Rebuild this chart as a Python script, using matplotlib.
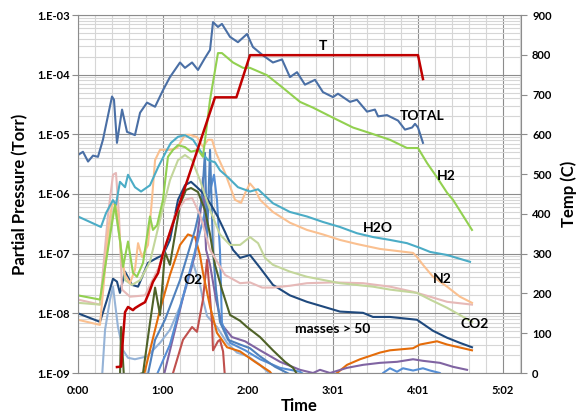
import matplotlib
matplotlib.use("Agg")
import matplotlib.pyplot as plt
from matplotlib.ticker import FixedLocator, MultipleLocator, NullFormatter

plt.rcParams['font.family'] = ['Lato', 'DejaVu Sans']
plt.rcParams['font.weight'] = 'bold'

# time in minutes, pressures in Torr, temperature in C
total_t = [0, 3.5, 7.1, 10.6, 14.1, 17.6, 24, 25.4, 27.5, 31.1, 34.6, 40.2, 43.8, 48.7, 54.4, 60, 64.9,
           72, 75.5, 80.5, 84.7, 89.6, 93.2, 95.3, 98.8, 101.6, 107.3, 112.9, 119.3, 123.5, 130.6, 137.6,
           144, 149.6, 154.6, 160.2, 167.3, 172.9, 180, 183.5, 192, 196.9, 204, 209.6, 211.8, 218.1,
           225.9, 230.8, 235.8, 237.9, 240, 243.5]
total_p = [4.5e-6, 5.1e-6, 3.5e-6, 4.4e-6, 4.2e-6, 8.1e-6, 4.3e-5, 3.8e-5, 7.2e-6, 2.6e-5, 1.1e-5, 9.7e-6,
           2.3e-5, 3.4e-5, 2.9e-5, 5.5e-5, 9.1e-5, 1.6e-4, 1.3e-4, 1.6e-4, 1.2e-4, 1.9e-4, 2.6e-4, 7.6e-4,
           6.3e-4, 7.1e-4, 4.3e-4, 3.5e-4, 4.8e-4, 2.9e-4, 2.1e-4, 1.6e-4, 1.8e-4, 9.1e-5, 1.1e-4, 6.8e-5,
           8.2e-5, 5.1e-5, 4.2e-5, 4.8e-5, 3.5e-5, 3.8e-5, 2.4e-5, 2.6e-5, 2.0e-5, 2.1e-5, 1.7e-5, 1.2e-5,
           1.3e-5, 1.5e-5, 1.3e-5, 7.2e-6]

h2_t = [0, 15.5, 26.1, 29.6, 31.8, 35.3, 38.8, 41.6, 45.9, 50.8, 52.9, 55.8, 60, 63.5, 67.1, 70.6, 75.5,
        79.8, 84.7, 88.2, 93.2, 98.8, 101.6, 109.4, 116.5, 121.4, 133.4, 144.7, 156.7, 165.9, 180, 194.1,
        206.1, 220.2, 232.2, 240, 246.4, 253.4, 260.5, 264.7, 278.1]
h2_p = [2.0e-8, 1.7e-8, 6.6e-7, 1.7e-7, 6.0e-8, 1.6e-7, 4.8e-8, 4.1e-8, 7e-8, 4.2e-7, 2.5e-7, 3.0e-7, 8e-7,
        4.2e-6, 5.5e-6, 6.6e-6, 6.1e-6, 5.1e-6, 5.5e-6, 4.2e-6, 3.8e-5, 2.3e-4, 2.3e-4, 1.6e-4, 1.3e-4,
        1.3e-4, 9.8e-5, 6.0e-5, 3.5e-5, 2.8e-5, 1.9e-5, 1.3e-5, 1.05e-5, 8.1e-6, 5.9e-6, 5.9e-6, 3.3e-6,
        1.9e-6, 1.05e-6, 8e-7, 2.5e-7]

h2o_t = [0, 16.2, 19.8, 24.7, 26.8, 29.6, 33.2, 35.3, 40.2, 44.5, 50.8, 56.5, 62.1, 65.6, 70.6, 75.5, 81.2,
         86.8, 91.8, 96.7, 100.2, 105.9, 112.9, 121.4, 127.1, 137.6, 149.6, 161.6, 172.9, 184.9, 196.9,
         208.2, 220.2, 232.2, 241.4, 248.5, 260.5, 276.7]
h2o_p = [4.2e-7, 2.8e-7, 4.8e-7, 7.9e-7, 6.6e-7, 1.6e-6, 1.3e-6, 2.1e-6, 1.3e-6, 1.1e-6, 1.4e-6, 2.8e-6,
         5.1e-6, 7.2e-6, 9.1e-6, 9.7e-6, 8.1e-6, 5.1e-6, 3.7e-6, 3.4e-6, 2.5e-6, 1.9e-6, 1.3e-6, 1.1e-6,
         1.2e-6, 7.0e-7, 5.0e-7, 4.2e-7, 3.4e-7, 2.8e-7, 2.2e-7, 1.9e-7, 1.7e-7, 1.5e-7, 1.25e-7, 1.07e-7,
         9.5e-8, 7.3e-8]

n2_t = [0, 15.5, 18.4, 21.2, 24, 26.1, 28.2, 30.4, 33.2, 36.7, 40.2, 42.4, 45.2, 49.4, 52.2, 54.4, 57.9,
        64.9, 69.9, 75.5, 79.1, 84, 88.2, 91.8, 94.6, 97.4, 103.8, 110.8, 115.1, 118, 121.4, 124.9, 128.5,
        137.6, 149.6, 161.6, 172.9, 184.9, 196.9, 213.2, 236.5, 239.3, 243.5, 250.6, 260.5, 269.6, 278.1]
n2_p = [7.8e-9, 6.4e-9, 3.6e-8, 2.5e-7, 6.6e-7, 7.1e-7, 4.5e-7, 9.5e-8, 4.4e-8, 3.2e-8, 5.4e-8, 1.5e-7,
        8.8e-8, 1.4e-7, 8e-7, 3.7e-6, 5.5e-6, 5.5e-6, 5.9e-6, 9.8e-6, 9.8e-6, 9.0e-6, 6.2e-6, 8.1e-6, 8.1e-6,
        4.9e-6, 2.25e-6, 8.0e-7, 7.1e-7, 1.04e-6, 1.5e-6, 1.2e-6, 8e-7, 5.0e-7, 3.3e-7, 2.5e-7, 2.1e-7,
        1.7e-7, 1.45e-7, 1.2e-7, 1.03e-7, 8.8e-8, 6.5e-8, 4.1e-8, 2.8e-8, 1.9e-8, 1.5e-8]

co2_t = [0, 15.5, 19.8, 24, 26.1, 29.6, 33.2, 38.1, 43.8, 50.8, 57.9, 64.9, 70.6, 75.5, 80.5, 86.1, 93.2,
         100.2, 107.3, 114.4, 121.4, 127.1, 132, 137.6, 149.6, 161.6, 184.9, 208.2, 220.2, 239.3, 248.5,
         260.5, 278.1]
co2_p = [1.5e-8, 1.4e-8, 7.9e-8, 4.5e-7, 6.0e-7, 1.7e-7, 3.6e-8, 3.0e-8, 3.6e-8, 7.3e-8, 3.7e-7, 1.7e-6,
         3.7e-6, 4.5e-6, 3.7e-6, 1.7e-6, 5.4e-7, 2.1e-7, 1.4e-7, 1.4e-7, 1.9e-7, 1.5e-7, 8.5e-8, 6.5e-8,
         5.0e-8, 4.1e-8, 3.2e-8, 2.8e-8, 2.5e-8, 2.2e-8, 1.7e-8, 1.24e-8, 7.2e-9]

pink_t = [0, 15.5, 21.2, 24.7, 26.8, 28.9, 31.1, 36.7, 47.3, 57.9, 68.5, 75.5, 80.5, 86.1, 93.2, 103.8,
          114.4, 121.4, 130, 137.6, 149.6, 161.6, 180, 201.2, 220.2, 236.5, 248.5, 260.5, 278.1]
pink_p = [1.7e-8, 1.4e-8, 4.5e-7, 2.1e-6, 2.25e-6, 4.5e-7, 2.5e-8, 1.9e-8, 2.0e-8, 6.5e-8, 4.5e-7, 8.0e-7,
          8.6e-7, 4.5e-7, 1.16e-7, 4.4e-8, 3.2e-8, 3.3e-8, 2.7e-8, 2.7e-8, 2.9e-8, 3.2e-8, 3.3e-8, 3.2e-8,
          2.8e-8, 2.3e-8, 1.9e-8, 1.56e-8, 1.4e-8]

navy_t = [0, 15.5, 20.5, 24.7, 27.5, 29.6, 33.2, 38.1, 42.4, 49.4, 55.8, 60, 64.9, 70.6, 75.5, 79.8, 84,
          88.2, 93.9, 98.8, 103.8, 109.4, 114.4, 121.4, 128.5, 137.6, 149.6, 161.6, 172.9, 184.9, 201.2,
          208.2, 220.2, 239.3, 250.6, 260.5, 269.6, 278.1]
navy_p = [1.0e-8, 7.2e-9, 1.7e-8, 3.8e-8, 3.4e-8, 2.2e-8, 5.0e-8, 3.0e-8, 2.8e-8, 7.0e-8, 8.5e-8, 9.5e-8,
          1.7e-7, 8e-7, 1.4e-6, 1.6e-6, 1.3e-6, 1.04e-6, 6.6e-7, 4.1e-7, 2.3e-7, 1.16e-7, 8.5e-8, 9.5e-8,
          5.8e-8, 3.0e-8, 2.0e-8, 1.56e-8, 1.3e-8, 1.07e-8, 1.02e-8, 8.7e-9, 8.7e-9, 7.8e-9, 5.1e-9, 3.9e-9,
          3.2e-9, 2.7e-9]

olive_t = [29.6, 30.4, 32.5, 45.9, 50.8, 54.4, 57.9, 61.4, 64.9, 68.5, 72, 76.2, 79.8, 84.7, 89.6, 93.2,
           96.7, 101.6, 107.3, 114.4, 119.3, 128.5, 137.6, 146.1, 151.8, 156.7]
olive_p = [8e-10, 5.9e-9, 8e-10, 1.0e-9, 6.9e-9, 2.7e-8, 9.4e-9, 1.07e-7, 6.5e-8, 2.1e-7, 6.6e-7, 1.17e-6,
           1.26e-6, 1.08e-6, 5.4e-7, 2.1e-7, 6.5e-8, 2.5e-8, 9.4e-9, 7.5e-9, 5.9e-9, 4.0e-9, 2.4e-9, 1.54e-9,
           1.22e-9, 8e-10]

red_t = [65.6, 67.1, 74.1, 80.5, 84, 88.2, 91.1, 94.6, 95.3, 98.8, 100.2, 102.4, 103.8]
red_p = [8e-10, 1.0e-9, 3.6e-9, 5.9e-9, 4.9e-9, 1.7e-8, 7.9e-8, 6.9e-9, 2.4e-9, 3.4e-9, 3.6e-9, 2.3e-9, 8e-10]

o2_t = [16.9, 19.1, 22.6, 24.7, 28.2, 31.8, 35.3, 40.2, 48.7, 57.9, 64.9, 72, 76.9, 81.2, 86.1, 88.2, 91.1,
        98.1, 105.2, 112.2, 120, 128.5, 139.1]
o2_p = [8e-10, 5.3e-9, 1.7e-8, 2.8e-8, 5.9e-9, 2.4e-9, 1.8e-9, 1.7e-9, 1.9e-9, 3.2e-9, 5.3e-9, 1.3e-8,
        3.0e-8, 7.0e-8, 3.0e-8, 1.7e-8, 9.0e-9, 5.9e-9, 3.2e-9, 2.2e-9, 1.9e-9, 1.37e-9, 8e-10]

bluea_t = [48.7, 54.4, 61.4, 72, 82.6, 87.5, 89.6, 91.1, 93.2, 95.3, 97.4, 100.2, 105.9, 114.4, 121.4,
           128.5, 139.1, 149.6]
bluea_p = [8e-10, 3.6e-9, 7.8e-9, 3.6e-8, 2.5e-7, 8e-7, 4.9e-6, 1.7e-7, 5.5e-6, 1.16e-7, 2.5e-8, 7.2e-9,
           3.6e-9, 3.0e-9, 2.6e-9, 1.9e-9, 1.27e-9, 9.5e-10]

blueb_t = [54.4, 64.9, 75.5, 84.7, 91.8, 96, 98.1, 100.2, 101.6, 107.3, 118, 128.5, 142.6, 156.7, 163.7]
blueb_p = [8e-10, 3.0e-9, 2.5e-8, 1.7e-7, 8e-7, 2.1e-6, 8e-7, 1.16e-7, 6.9e-9, 3.2e-9, 2.4e-9, 1.7e-9,
           1.22e-9, 1.05e-9, 8e-10]

bluelate_t = [213.5, 215.3, 220.2, 225.2, 229.4, 236.5, 243.5, 248.5, 255.5, 258]
bluelate_p = [8e-10, 1.0e-9, 1.2e-9, 1.05e-9, 1.2e-9, 1.1e-9, 1.2e-9, 1.1e-9, 1.0e-9, 8e-10]

purple_t = [60, 68.5, 75.5, 82.6, 86.8, 88.2, 90.4, 93.2, 97.4, 101.6, 108.7, 117.9, 128.5, 142.6, 156.7,
            165.9, 170.8, 177.9, 189.9, 201.2, 213.2, 225.2, 236.5, 243.5, 255.5, 264.7, 274.6]
purple_p = [8e-10, 5.3e-9, 2.5e-8, 9.5e-8, 6e-7, 1.86e-6, 1.16e-7, 6.5e-8, 1.7e-8, 6.4e-9, 4.0e-9, 3.4e-9,
            2.4e-9, 1.54e-9, 1.13e-9, 1.0e-9, 1.13e-9, 1.0e-9, 1.22e-9, 1.37e-9, 1.48e-9, 1.54e-9, 1.7e-9,
            1.6e-9, 1.48e-9, 1.27e-9, 1.13e-9]

orange_t = [45.9, 50.8, 57.9, 64.9, 72, 77.6, 82.6, 86.1, 88.2, 93.2, 98.1, 105.2, 114.4, 124.9, 135.5,
            139.1, 177.9, 182.8, 189.9, 199.1, 213.2, 220.2, 236.5, 241.4, 253.4, 260.5, 278.1]
orange_p = [8e-10, 2.4e-9, 1.15e-8, 4.4e-8, 1.4e-7, 2.1e-7, 1.9e-7, 9.5e-8, 4.8e-8, 1.3e-8, 4.7e-9, 2.7e-9,
            2.3e-9, 1.54e-9, 1.05e-9, 8e-10, 8e-10, 1.0e-9, 1.37e-9, 1.7e-9, 2.2e-9, 2.4e-9, 2.6e-9, 3.0e-9,
            3.4e-9, 3.0e-9, 2.4e-9]

temp_t = [27.5, 30.4, 31.8, 33.2, 35.3, 38.8, 40.2, 43.8, 47.3, 50.8, 52.9, 56.5, 60, 96.7, 111.8, 121.4,
          240, 243.5]
temp_c = [15, 16, 91, 153, 166, 158, 163, 171, 178, 208, 229, 251, 301, 693, 693, 799, 799, 739]

time_ticks = [0, 60, 120, 180, 240, 300]
time_labels = ['0:00', '1:00', '2:00', '3:01', '4:01', '5:02']
p_ticks = [1e-9, 1e-8, 1e-7, 1e-6, 1e-5, 1e-4, 1e-3]
p_labels = ['1.E-09', '1.E-08', '1.E-07', '1.E-06', '1.E-05', '1.E-04', '1.E-03']

fig = plt.figure(figsize=(5.88, 4.16), dpi=100)
ax = fig.add_axes([78 / 588, 1 - 373 / 416, 443 / 588, 358 / 416])

series = [
    (o2_t, o2_p, '#95B3D7'),
    (red_t, red_p, '#C0504D'),
    (orange_t, orange_p, '#E46C0A'),
    (purple_t, purple_p, '#8064A2'),
    (blueb_t, blueb_p, '#558ED5'),
    (bluelate_t, bluelate_p, '#558ED5'),
    (bluea_t, bluea_p, '#4F81BD'),
    (olive_t, olive_p, '#4F6228'),
    (navy_t, navy_p, '#1F497D'),
    (pink_t, pink_p, '#E6B9B8'),
    (co2_t, co2_p, '#C3D69B'),
    (n2_t, n2_p, '#FAC090'),
    (h2o_t, h2o_p, '#4BACC6'),
    (h2_t, h2_p, '#92D050'),
    (total_t, total_p, '#4A6FA5'),
]
for t, p, c in series:
    ax.plot(t, p, color=c, lw=1.5, solid_joinstyle='round')

ax.set_yscale('log')
ax.set_ylim(1e-9, 1e-3)
ax.set_xlim(0, 312.7)
ax.yaxis.set_major_locator(FixedLocator(p_ticks))
ax.set_yticklabels(p_labels)
ax.yaxis.set_minor_formatter(NullFormatter())
ax.set_xticks(time_ticks)
ax.set_xticklabels(time_labels)
ax.xaxis.set_minor_locator(MultipleLocator(12))
ax.grid(which='major', color='#8c8c8c', lw=0.8)
ax.grid(which='minor', color='#d6d6d6', lw=0.8)
ax.set_axisbelow(True)
ax.tick_params(which='major', axis='y', length=4, color='#8c8c8c', labelsize=8, pad=2)
ax.tick_params(which='major', axis='x', length=0, labelsize=8, pad=9)
ax.tick_params(which='minor', length=0)
for s in ax.spines.values():
    s.set_color('#8c8c8c')
ax.set_ylabel('Partial Pressure (Torr)', fontsize=12, fontweight='bold', labelpad=6)
ax.set_xlabel('Time', fontsize=12, fontweight='bold', labelpad=1)

ax2 = ax.twinx()
ax2.plot(temp_t, temp_c, color='#C00000', lw=1.8)
ax2.set_ylim(0, 900)
ax2.set_yticks(range(0, 901, 100))
ax2.tick_params(axis='y', length=4, color='#8c8c8c', labelsize=8, pad=4)
for s in ax2.spines.values():
    s.set_visible(False)
ax2.set_ylabel('Temp (C)', fontsize=12, fontweight='bold', labelpad=6)

notes = [('T', 173, 3.0e-4), ('TOTAL', 243, 2.0e-5), ('H2', 260, 2.0e-6), ('H2O', 212, 2.7e-7),
         ('N2', 257, 3.7e-8), ('CO2', 280, 6.5e-9), ('O2', 81, 3.6e-8), ('masses > 50', 180, 5.5e-9)]
for txt, x, y in notes:
    ax.text(x, y, txt, fontsize=10, fontweight='bold', ha='center', va='center')

fig.savefig('out.png', dpi=100)
